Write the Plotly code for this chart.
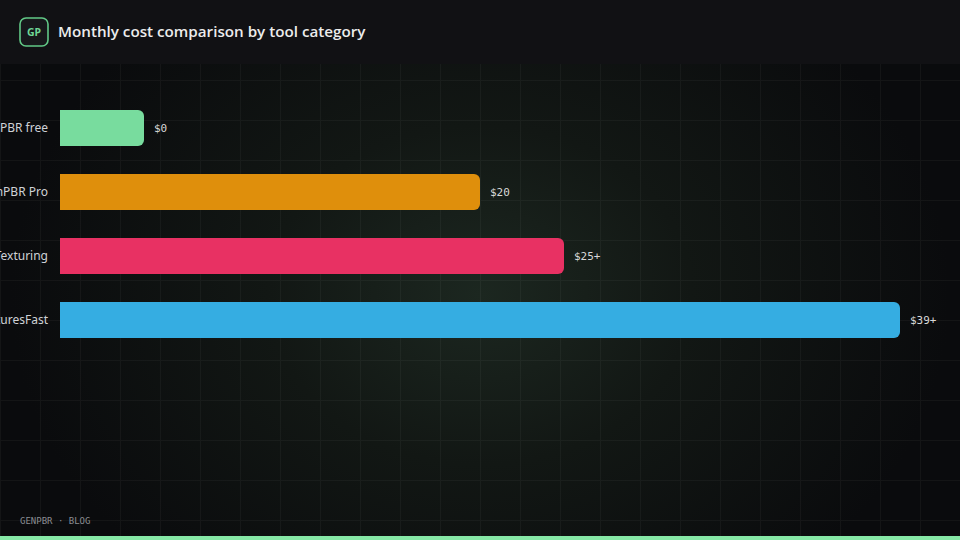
import urllib.parse
import plotly.graph_objects as go

# ---- data ----
categories = ["GenPBR free", "GenPBR Pro", "AI Texturing", "TexturesFast"]
price_labels = ["$0", "$20", "$25+", "$39+"]
bar_length = [10, 50, 60, 100]          # relative bar length (% of longest), as drawn
bar_colors = ["#78dc9e", "#df8f0c", "#e83163", "#35ade2"]

title_text = "Monthly cost comparison by tool category"
badge_text = "GP"
footer_text = "GENPBR · BLOG"

# ---- layout geometry ----
W, H = 960, 540
ML, MR, MT, MB = 60, 60, 96, 188
PW, PH = W - ML - MR, H - MT - MB


def px(x):
    return (x - ML) / PW


def py(y):
    return (H - MB - y) / PH


svg = f"""<svg xmlns='http://www.w3.org/2000/svg' width='{W}' height='{H}' viewBox='0 0 {W} {H}'>
<defs>
<radialGradient id='g' cx='480' cy='295' r='470' gradientUnits='userSpaceOnUse' gradientTransform='translate(480 295) scale(1 0.8) translate(-480 -295)'>
<stop offset='0' stop-color='#1c2720'/>
<stop offset='0.45' stop-color='#121714'/>
<stop offset='1' stop-color='#0a0b0d'/>
</radialGradient>
<pattern id='p' width='40' height='40' patternUnits='userSpaceOnUse'>
<path d='M40 0.5H0.5V40' fill='none' stroke='rgba(255,255,255,0.04)' stroke-width='1'/>
</pattern>
</defs>
<rect width='{W}' height='{H}' fill='#0a0b0d'/>
<rect width='{W}' height='{H}' fill='url(#g)'/>
<rect width='{W}' height='{H}' fill='url(#p)'/>
<rect width='{W}' height='64' fill='#111114'/>
<rect x='20' y='18' width='28' height='28' rx='6' fill='#17181b' stroke='#62c987' stroke-width='1.6'/>
<rect y='536' width='{W}' height='4' fill='#86e8a6'/>
</svg>"""
bg_uri = "data:image/svg+xml;charset=utf-8," + urllib.parse.quote(svg)

fig = go.Figure()
fig.add_trace(go.Bar(
    x=bar_length,
    y=categories,
    orientation="h",
    marker=dict(color=bar_colors, line=dict(width=0), cornerradius=6),
    hoverinfo="skip",
    showlegend=False,
))

annotations = []
for cat, val, lab in zip(categories, bar_length, price_labels):
    annotations.append(dict(
        x=val, y=cat, xref="x", yref="y", text=lab, showarrow=False,
        xanchor="left", yanchor="middle", xshift=8,
        font=dict(family="DejaVu Sans Mono", size=11, color="#d8d8d8"),
    ))

annotations.append(dict(
    x=px(56), y=py(31), xref="paper", yref="paper", text=title_text,
    showarrow=False, xanchor="left", yanchor="middle",
    font=dict(family="Open Sans", size=15.2, color="#ececec", weight=600),
))
annotations.append(dict(
    x=px(34), y=py(32), xref="paper", yref="paper", text=badge_text,
    showarrow=False, xanchor="center", yanchor="middle",
    font=dict(family="Noto Sans", size=10.5, color="#6fd696", weight=700),
))
annotations.append(dict(
    x=px(18), y=py(521), xref="paper", yref="paper", text=footer_text,
    showarrow=False, xanchor="left", yanchor="middle",
    font=dict(family="DejaVu Sans Mono", size=9, color="#8a8d92"),
))

fig.update_layout(
    width=W, height=H,
    margin=dict(l=ML, r=MR, t=MT, b=MB, pad=0),
    paper_bgcolor="#0a0b0d",
    plot_bgcolor="rgba(0,0,0,0)",
    bargap=0.4375,
    showlegend=False,
    xaxis=dict(range=[0, 100], visible=False, fixedrange=True),
    yaxis=dict(
        autorange="reversed", showgrid=False, zeroline=False, showline=False,
        ticks="", ticklabelstandoff=11, automargin=False, fixedrange=True,
        tickfont=dict(family="Noto Sans", size=12, color="#cfd2d6"),
    ),
    images=[dict(
        source=bg_uri, xref="paper", yref="paper",
        x=px(0), y=py(0), sizex=W / PW, sizey=H / PH,
        xanchor="left", yanchor="top", sizing="stretch", layer="below",
    )],
    annotations=annotations,
)

fig.write_html(
    "out.html",
    config={"displayModeBar": False},
    post_script="document.body.style.margin='0';document.body.style.background='#0a0b0d';",
)
